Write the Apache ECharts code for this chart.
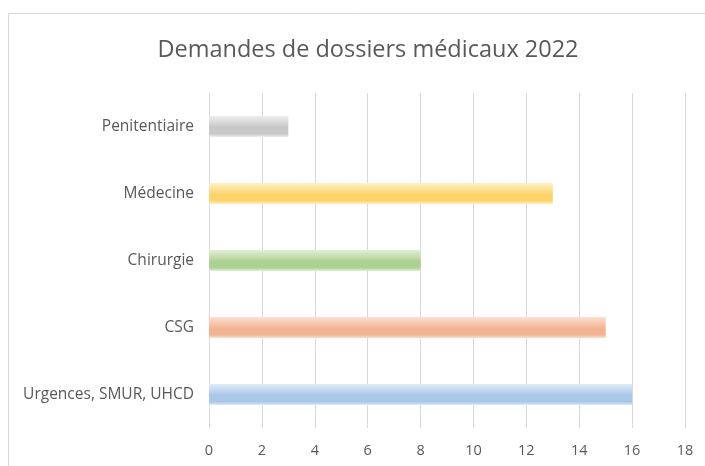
<!DOCTYPE html>
<html>
<head>
<meta charset="utf-8">
<script src="https://cdn.jsdelivr.net/npm/echarts@6/dist/echarts.min.js"></script>
<style>
  html, body { margin: 0; padding: 0; background: #fff; }
  #chart { width: 705px; height: 466px; }
</style>
</head>
<body>
<div id="chart"></div>
<script>
const categories = ['Urgences, SMUR, UHCD', 'CSG', 'Chirurgie', 'Médecine', 'Penitentiaire'];
const values = [16, 15, 8, 13, 3];
const barColors = [
  ['#dfeaf7', '#a9c8e8'],
  ['#fbe0d0', '#f3b493'],
  ['#e3efd9', '#acd192'],
  ['#fff0c6', '#fdd46a'],
  ['#ededed', '#c8c8c8']
];
const xTicks = [0, 2, 4, 6, 8, 10, 12, 14, 16, 18];

const chart = echarts.init(document.getElementById('chart'));

const gradient = (c) => new echarts.graphic.LinearGradient(0, 0, 0, 1, [
  { offset: 0, color: c[0] },
  { offset: 0.55, color: c[1] },
  { offset: 0.85, color: c[1] },
  { offset: 1, color: c[0] }
]);

const option = {
  backgroundColor: '#fff',
  animation: false,
  title: {
    text: 'Demandes de dossiers médicaux 2022',
    left: 363,
    top: 33,
    textAlign: 'center',
    textStyle: { fontFamily: 'Open Sans', fontSize: 23.5, fontWeight: 'normal', color: '#595959' }
  },
  graphic: [{
    type: 'rect',
    shape: { x: 8.5, y: 13.5, width: 720, height: 480 },
    style: { fill: 'none', stroke: '#d9d9d9', lineWidth: 1 }
  }],
  grid: { left: 209, right: 20, top: 93, bottom: 38 },
  xAxis: {
    type: 'value',
    min: 0,
    max: 18,
    interval: 2,
    axisLine: { show: false },
    axisTick: { show: false },
    splitLine: { show: true, lineStyle: { color: '#d9d9d9', width: 1 } },
    axisLabel: {
      color: '#595959',
      fontFamily: 'Open Sans',
      fontSize: 14.5,
      margin: 15,
      formatter: (v) => xTicks.includes(v) ? String(v) : ''
    }
  },
  yAxis: {
    type: 'category',
    data: categories,
    axisLine: { show: true, lineStyle: { color: '#d9d9d9' } },
    axisTick: { show: false },
    axisLabel: { color: '#595959', fontFamily: 'Open Sans', fontSize: 15.5, margin: 15 }
  },
  series: [{
    type: 'bar',
    barWidth: 21,
    data: values.map((v, i) => ({ value: v, itemStyle: { color: gradient(barColors[i]) } }))
  }]
};

chart.setOption(option);
</script>
</body>
</html>
